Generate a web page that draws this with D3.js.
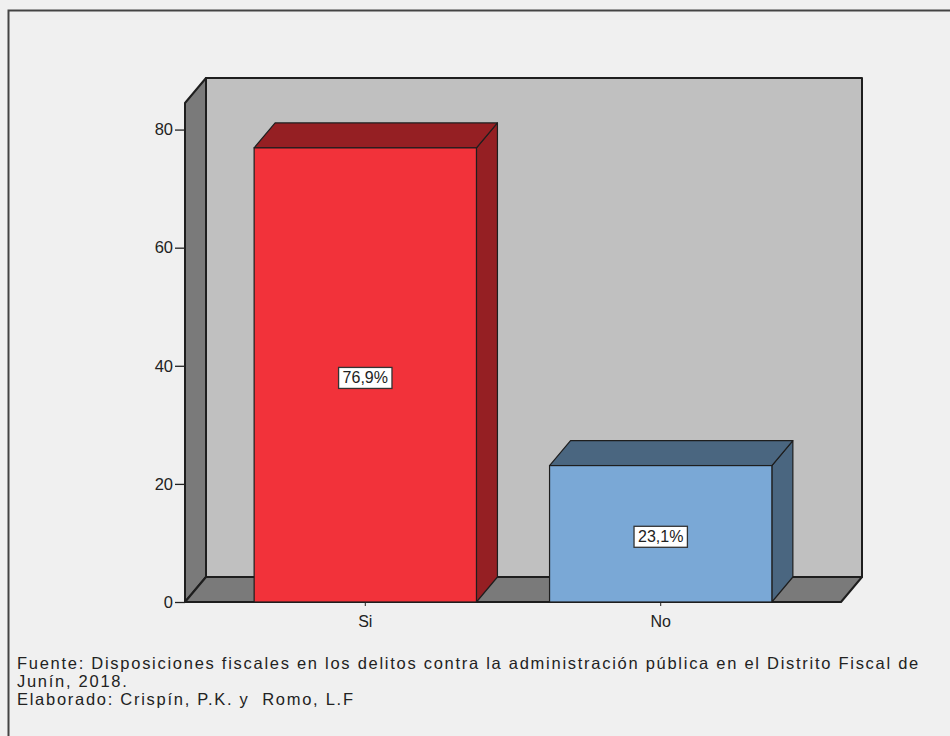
<!DOCTYPE html>
<html><head><meta charset="utf-8">
<script src="https://cdn.jsdelivr.net/npm/d3@7"></script>
<style>
html,body{margin:0;padding:0;background:#f0f0f0;}
svg{display:block;}
text{font-family:"Liberation Sans",Arial,sans-serif;fill:#222;}
</style></head>
<body>
<script>
const categories = ["Si", "No"];
const values = [76.9, 23.1];
const valueLabels = ["76,9%", "23,1%"];
const yTicks = [0, 20, 40, 60, 80];
const footerLines = [
  "Fuente: Disposiciones fiscales en los delitos contra la administración pública en el Distrito Fiscal de",
  "Junín, 2018.",
  "Elaborado: Crispín, P.K. y  Romo, L.F"
];
const frontColors = ["#f2323a", "#7aa8d6"];
const darkColors = ["#951f23", "#4a6680"];

const W = 950, H = 736;
const svg = d3.select("body").append("svg").attr("width", W).attr("height", H);

// outer border
svg.append("rect").attr("x", 8.5).attr("y", 10.5).attr("width", W + 20).attr("height", H + 20)
  .attr("fill", "#f0f0f0").attr("stroke", "#444").attr("stroke-width", 2);

const x0 = 185, x1 = 841, yBase = 602, yTop = 103;
const dx = 21, dy = -25;
const y = d3.scaleLinear().domain([0, 84.5]).range([yBase, yTop]);
const x = d3.scaleBand().domain(categories).range([x0, x1]).paddingInner(0.2475).paddingOuter(0.234);

const edge = "#1e1e1e";
const poly = pts => pts.map(p => p.join(",")).join(" ");

// back wall
svg.append("polygon").attr("points", poly([[x0+dx, yTop+dy],[x1+dx, yTop+dy],[x1+dx, yBase+dy],[x0+dx, yBase+dy]]))
  .attr("fill", "#c0c0c0").attr("stroke", edge).attr("stroke-width", 2).attr("stroke-linejoin", "round");
// left wall
svg.append("polygon").attr("points", poly([[x0, yBase],[x0, yTop],[x0+dx, yTop+dy],[x0+dx, yBase+dy]]))
  .attr("fill", "#7a7a7a").attr("stroke", edge).attr("stroke-width", 2).attr("stroke-linejoin", "round");
// floor
svg.append("polygon").attr("points", poly([[x0, yBase],[x1, yBase],[x1+dx, yBase+dy],[x0+dx, yBase+dy]]))
  .attr("fill", "#7a7a7a").attr("stroke", edge).attr("stroke-width", 2).attr("stroke-linejoin", "round");

// bars
const bars = svg.append("g");
categories.forEach((c, i) => {
  const bx = x(c), bw = x.bandwidth(), by = y(values[i]);
  const g = bars.append("g");
  g.append("polygon").attr("points", poly([[bx+bw, yBase],[bx+bw, by],[bx+bw+dx, by+dy],[bx+bw+dx, yBase+dy]]))
    .attr("fill", darkColors[i]).attr("stroke", edge).attr("stroke-width", 1.2).attr("stroke-linejoin", "round");
  g.append("polygon").attr("points", poly([[bx, by],[bx+bw, by],[bx+bw+dx, by+dy],[bx+dx, by+dy]]))
    .attr("fill", darkColors[i]).attr("stroke", edge).attr("stroke-width", 1.2).attr("stroke-linejoin", "round");
  g.append("rect").attr("x", bx).attr("y", by).attr("width", bw).attr("height", yBase - by)
    .attr("fill", frontColors[i]).attr("stroke", edge).attr("stroke-width", 1.2);
  const cx = bx + bw / 2, cy = (by + yBase) / 2 + 3;
  const t = g.append("text").attr("x", cx).attr("y", cy + 5.5).attr("text-anchor", "middle")
    .attr("font-size", 16).text(valueLabels[i]);
  const bb = t.node().getBBox();
  g.insert("rect", "text").attr("x", bb.x - 4).attr("y", cy - 10.5).attr("width", bb.width + 8).attr("height", 21)
    .attr("fill", "#fff").attr("stroke", "#333").attr("stroke-width", 1.3);
});

// y axis
const yAxis = d3.axisLeft(y).tickValues(yTicks).tickSize(10).tickPadding(2).tickFormat(d3.format("d"));
const ya = svg.append("g").attr("transform", `translate(${x0},0)`).call(yAxis);
ya.attr("font-size", null).attr("font-family", null);
ya.select(".domain").remove();
ya.selectAll(".tick line").attr("stroke", "#222").attr("stroke-width", 1.3);
ya.selectAll(".tick text").style("font-size", "16.5px").attr("fill", "#222");

// x axis
const xAxis = d3.axisBottom(x).tickSize(4).tickPadding(10);
const xa = svg.append("g").attr("transform", `translate(0,${yBase})`).call(xAxis);
xa.attr("font-size", null).attr("font-family", null);
xa.select(".domain").remove();
xa.selectAll(".tick line").attr("stroke", "#222").attr("stroke-width", 1);
xa.selectAll(".tick text").style("font-size", "16px").attr("fill", "#222");

// footer
const fy = [668.5, 687, 705];
const fsz = 16.5;
const ft = footerLines.map((l, i) =>
  svg.append("text").attr("x", 17).attr("y", fy[i]).style("font-size", fsz + "px")
    .style("white-space", "pre").attr("xml:space", "preserve").text(l));
const natural = ft[0].node().getComputedTextLength();
const ls = (903 - natural) / footerLines[0].length;
ft.forEach(t => t.style("letter-spacing", ls + "px"));
</script>
</body></html>
